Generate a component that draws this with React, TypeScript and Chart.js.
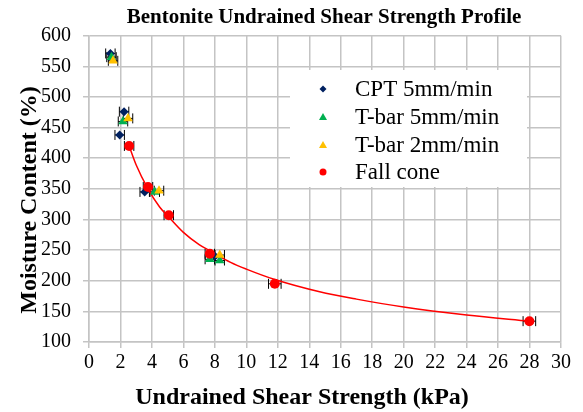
import React, { useEffect, useRef } from "react";
import { Chart, registerables } from "chart.js";

Chart.register(...registerables);

// ---- data ----
const cptX = [1.36, 2.23, 1.95, 3.54, 8.0];
const cptY = [571, 476, 438, 345, 240];
const cptErr = [0.3, 0.3, 0.3, 0.3, 0.3];

const t5X = [1.43, 2.16, 4.18, 7.68, 8.31];
const t5Y = [565, 460, 345, 235, 233];
const t5Err = [0.3, 0.3, 0.3, 0.3, 0.3];

const t2X = [1.53, 2.48, 4.45, 8.31];
const t2Y = [559, 465, 347, 242];
const t2Err = [0.3, 0.3, 0.3, 0.3];

const fcX = [2.55, 3.75, 5.07, 7.68, 11.81, 27.99];
const fcY = [420, 353, 307, 244, 195, 134];
const fcErr = [0.3, 0.3, 0.3, 0.3, 0.4, 0.4];

// points
const trendX = [2.55, 3, 3.75, 4.5, 5.07, 6, 7, 7.74, 9, 10, 11.81, 14.66, 17, 20, 24, 28];
const trendY = [420, 389, 350, 320, 304, 279, 259, 248, 230, 219, 202, 182, 170, 157, 144, 134];

const xTicksMin = 0;
const xTicksMax = 30;
const xStep = 2;
const yTicksMin = 100;
const yTicksMax = 600;
const yStep = 50;

const titleText = "Bentonite Undrained Shear Strength Profile";
const xTitle = "Undrained Shear Strength (kPa)";
const yTitle = "Moisture Content (%)";
const legendLabels = ["CPT 5mm/min", "T-bar 5mm/min", "T-bar 2mm/min", "Fall cone"];

const NAVY = "#002060";
const GREEN = "#00B050";
const YELLOW = "#FFC000";
const RED = "#FF0000";
const GRID = "#c4c4c4";
const FONT = `"Liberation Serif", "Times New Roman", serif`;

Chart.defaults.font.family = FONT;

const toPts = (xs: number[], ys: number[]) => xs.map((x, i) => ({ x, y: ys[i] }));

function drawMarker(ctx: CanvasRenderingContext2D, kind: string, x: number, y: number, r: number, color: string) {
  ctx.save();
  ctx.fillStyle = color;
  ctx.beginPath();
  if (kind === "diamond") {
    ctx.moveTo(x, y - r);
    ctx.lineTo(x + r, y);
    ctx.lineTo(x, y + r);
    ctx.lineTo(x - r, y);
    ctx.closePath();
  } else if (kind === "triangle") {
    ctx.moveTo(x, y - r);
    ctx.lineTo(x + r, y + r * 0.75);
    ctx.lineTo(x - r, y + r * 0.75);
    ctx.closePath();
  } else {
    ctx.arc(x, y, r, 0, Math.PI * 2);
  }
  ctx.fill();
  ctx.restore();
}

const errorBarPlugin = {
  id: "errorBars",
  beforeDatasetsDraw(chart: any) {
    const ctx = chart.ctx;
    const xs = chart.scales.x;
    const ys = chart.scales.y;
    const sets: [number[], number[], number[]][] = [
      [cptX, cptY, cptErr],
      [t5X, t5Y, t5Err],
      [t2X, t2Y, t2Err],
      [fcX, fcY, fcErr],
    ];
    ctx.save();
    ctx.strokeStyle = "#000";
    ctx.lineWidth = 1;
    sets.forEach(([X, Y, E]) => {
      X.forEach((xv, i) => {
        const py = ys.getPixelForValue(Y[i]);
        const x1 = xs.getPixelForValue(xv - E[i]);
        const x2 = xs.getPixelForValue(xv + E[i]);
        ctx.beginPath();
        ctx.moveTo(x1, py);
        ctx.lineTo(x2, py);
        ctx.moveTo(x1, py - 5);
        ctx.lineTo(x1, py + 5);
        ctx.moveTo(x2, py - 5);
        ctx.lineTo(x2, py + 5);
        ctx.stroke();
      });
    });
    ctx.restore();
  },
};

const textPlugin = {
  id: "texts",
  afterDraw(chart: any) {
    const ctx = chart.ctx;
    ctx.save();
    ctx.fillStyle = "#000";
    ctx.textAlign = "center";
    ctx.textBaseline = "middle";
    ctx.font = `bold 21px ${FONT}`;
    ctx.fillText(titleText, 324, 18);
    ctx.font = `bold 24px ${FONT}`;
    ctx.fillText(xTitle, 302, 398);
    ctx.save();
    ctx.translate(30, 200);
    ctx.rotate(-Math.PI / 2);
    ctx.fillText(yTitle, 0, 0);
    ctx.restore();

    const lx = 290, ly = 70, lw = 237, lh = 117;
    ctx.fillStyle = "#fff";
    ctx.fillRect(lx, ly, lw, lh);
    const rows = [89, 117, 145, 172];
    const kinds = ["diamond", "triangle", "triangle", "circle"];
    const colors = [NAVY, GREEN, YELLOW, RED];
    const rs = [3.5, 4, 4, 3.5];
    ctx.font = `23px ${FONT}`;
    ctx.textAlign = "left";
    ctx.textBaseline = "middle";
    rows.forEach((ry, i) => {
      drawMarker(ctx, kinds[i], 323, ry, rs[i], colors[i]);
      ctx.fillStyle = "#000";
      ctx.fillText(legendLabels[i], 355, ry + 1);
    });
    ctx.restore();
  },
};

export default function App() {
  const ref = useRef<HTMLCanvasElement | null>(null);
  useEffect(() => {
    if (!ref.current) return;
    const chart = new Chart(ref.current, {
      type: "scatter",
      data: {
        datasets: [
          {
            label: legendLabels[0],
            data: toPts(cptX, cptY),
            pointStyle: "rectRot",
            pointRadius: 4.5,
            backgroundColor: NAVY,
            borderColor: NAVY,
            borderWidth: 0,
            order: 3,
          },
          {
            label: legendLabels[1],
            data: toPts(t5X, t5Y),
            pointStyle: "triangle",
            pointRadius: 5.5,
            backgroundColor: GREEN,
            borderColor: GREEN,
            borderWidth: 0,
            order: 2,
          },
          {
            label: legendLabels[2],
            data: toPts(t2X, t2Y),
            pointStyle: "triangle",
            pointRadius: 5.5,
            backgroundColor: YELLOW,
            borderColor: YELLOW,
            borderWidth: 0,
            order: 1,
          },
          {
            label: legendLabels[3],
            data: toPts(fcX, fcY),
            pointStyle: "circle",
            pointRadius: 5,
            backgroundColor: RED,
            borderColor: RED,
            borderWidth: 0,
            order: 0,
          },
          {
            label: "trend",
            type: "line",
            data: toPts(trendX, trendY),
            showLine: true,
            pointRadius: 0,
            borderColor: RED,
            borderWidth: 1.5,
            cubicInterpolationMode: "monotone",
            fill: false,
            order: 4,
          } as any,
        ],
      },
      options: {
        animation: false,
        responsive: true,
        maintainAspectRatio: false,
        layout: { padding: { top: 35.7, right: 22, left: 0, bottom: 0 } },
        plugins: {
          legend: { display: false },
          title: { display: false },
          tooltip: { enabled: false },
        },
        scales: {
          x: {
            type: "linear",
            min: xTicksMin,
            max: xTicksMax,
            ticks: {
              stepSize: xStep,
              color: "#000",
              font: { family: FONT, size: 20, weight: "normal" },
              padding: 3,
              maxRotation: 0,
              autoSkip: false,
            },
            grid: { color: GRID, lineWidth: 1.5, tickLength: 6, tickColor: GRID },
            border: { color: GRID, width: 1.5 },
            afterFit: (s: any) => {
              s.height = 70;
            },
          },
          y: {
            type: "linear",
            min: yTicksMin,
            max: yTicksMax,
            ticks: {
              stepSize: yStep,
              color: "#000",
              font: { family: FONT, size: 20, weight: "normal" },
              padding: 12,
            },
            grid: { color: GRID, lineWidth: 1.5, tickLength: 6, tickColor: GRID },
            border: { color: GRID, width: 1.5 },
            afterFit: (s: any) => {
              s.width = 89;
            },
          },
        },
      },
      plugins: [errorBarPlugin, textPlugin],
    });
    return () => chart.destroy();
  }, []);
  return (
    <div style={{ position: "fixed", left: 0, top: 0, width: 583, height: 412, background: "#fff" }}>
      <canvas ref={ref} />
    </div>
  );
}
